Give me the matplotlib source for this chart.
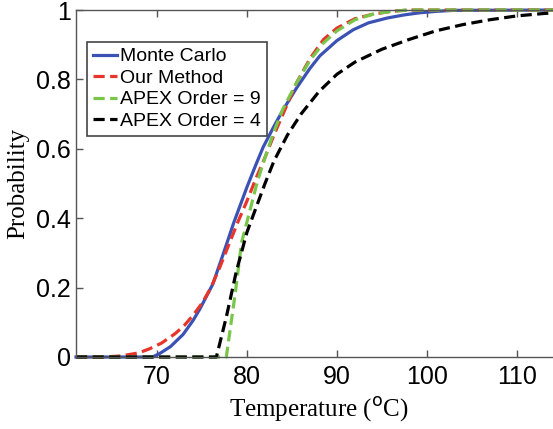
import numpy as np
import matplotlib
matplotlib.use('Agg')
import matplotlib.pyplot as plt

# ----------------------------------------------
# Data
# ----------------------------------------------

mc_temp = [61, 69.5, 70.3, 71.5, 72.9, 74.0, 74.8, 76.2, 77.4, 78.5, 79.0, 80.0,
           81.0, 81.8, 83.0, 84.0, 85.5, 87.0, 88.1, 90.0, 91.8, 93.5, 95.6,
           97.5, 99.2, 101.0, 103.0, 115]
mc_prob = [0, 0, 0.01, 0.03, 0.065, 0.105, 0.14, 0.21, 0.30, 0.385, 0.42, 0.49,
           0.555, 0.605, 0.665, 0.712, 0.775, 0.832, 0.868, 0.912, 0.943, 0.963, 0.977,
           0.986, 0.992, 0.996, 0.999, 1.0]

ours_temp = [61, 64, 66, 68, 69.2, 70.5, 72, 73, 74, 75, 76, 77, 78, 79, 80, 81,
             82, 83, 84, 85.5, 87, 88.5, 90, 92, 94, 96, 98, 115]
ours_prob = [0, 0, 0.003, 0.012, 0.024, 0.04, 0.067, 0.09, 0.12, 0.155, 0.2, 0.26,
             0.325, 0.39, 0.45, 0.515, 0.575, 0.64, 0.7, 0.79, 0.86, 0.915, 0.948,
             0.975, 0.988, 0.996, 1.0, 1.0]

apex9_temp = [61, 77.7, 78.7, 79.4, 80.3, 81.2, 82.2, 83.0, 84.0, 85.5, 87.0,
              88.5, 90.0, 92.0, 94.0, 96.0, 98.0, 115]
apex9_prob = [0, 0, 0.185, 0.33, 0.42, 0.51, 0.59, 0.65, 0.715, 0.79, 0.855,
              0.905, 0.94, 0.972, 0.988, 0.996, 1.0, 1.0]

apex4_temp = [61, 76.6, 77.7, 78.8, 80.0, 81.0, 82.0, 83.0, 84.5, 86.0, 88.0,
              90.0, 92.0, 95.0, 98.0, 101.0, 104.0, 107.0, 110.0, 113.0, 115]
apex4_prob = [0, 0, 0.115, 0.245, 0.36, 0.43, 0.50, 0.565, 0.64, 0.70, 0.765,
              0.815, 0.85, 0.887, 0.915, 0.94, 0.958, 0.972, 0.983, 0.99, 0.993]

x_ticks = [70, 80, 90, 100, 110]
y_ticks = [0, 0.2, 0.4, 0.6, 0.8, 1.0]
y_tick_labels = ['0', '0.2', '0.4', '0.6', '0.8', '1']

# ----------------------------------------------
# Figure
# ----------------------------------------------

fig = plt.figure(figsize=(5.53, 4.29), dpi=100)
# axes run past the right edge, the original figure is cropped there
ax = fig.add_axes([76 / 553, 72 / 429, 486 / 553, 347 / 429])

lw = 2.3
dash = (3.5, 1.7)
ax.plot(mc_temp, mc_prob, color='#3b52b4', lw=lw, label='Monte Carlo', clip_on=False)
ax.plot(ours_temp, ours_prob, color='#e8352b', lw=lw, ls='--', dashes=dash,
        label='Our Method', clip_on=False)
ax.plot(apex9_temp, apex9_prob, color='#78c64a', lw=lw, ls='--', dashes=dash,
        label='APEX Order = 9', clip_on=False)
ax.plot(apex4_temp, apex4_prob, color='black', lw=lw, ls='--', dashes=dash,
        label='APEX Order = 4', clip_on=False)

ax.set_xlim(61, 115)
ax.set_ylim(0, 1)
ax.set_xticks(x_ticks)
ax.set_yticks(y_ticks)
ax.set_yticklabels(y_tick_labels)

for sp in ax.spines.values():
    sp.set_color('#555555')
    sp.set_linewidth(1.0)

ax.tick_params(direction='in', length=5, width=1, color='#555555',
               top=True, right=True, labelsize=18, labelfontfamily='Liberation Sans')
ax.tick_params(axis='y', pad=3.5)
ax.tick_params(axis='x', pad=6)

ax.set_xlabel('Temperature ($^{\\mathrm{o}}$C)', fontsize=18,
              family='Liberation Serif', labelpad=4)
ax.set_ylabel('Probability', fontsize=18, family='Liberation Serif', labelpad=5)

leg = ax.legend(loc='upper left', bbox_to_anchor=(0.0226, 0.908), borderaxespad=0,
                prop={'family': 'Liberation Sans', 'size': 14},
                fancybox=False, framealpha=1, edgecolor='#444444',
                handlelength=1.25, handletextpad=0.15, labelspacing=0.2,
                borderpad=0.3)
leg.get_frame().set_linewidth(1.2)

plt.savefig('out.png', dpi=100)
plt.close()
